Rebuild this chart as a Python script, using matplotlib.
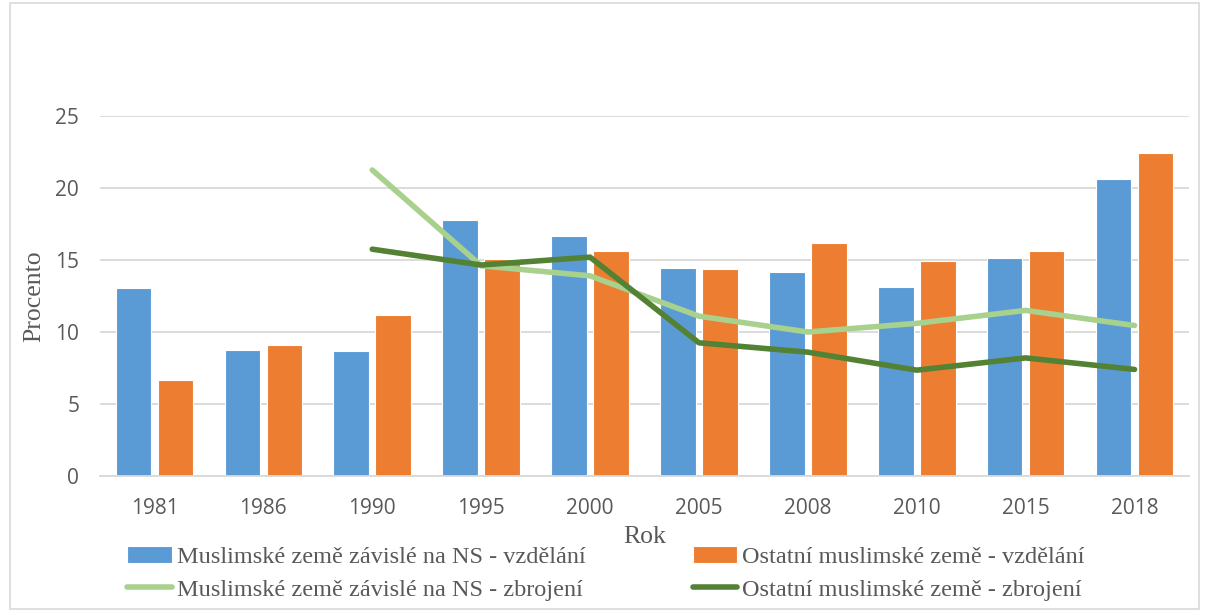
import matplotlib
matplotlib.use("Agg")
import matplotlib.pyplot as plt
import numpy as np
from matplotlib.patches import Rectangle

years = ["1981", "1986", "1990", "1995", "2000", "2005", "2008", "2010", "2015", "2018"]
edu_ns = [13.05, 8.75, 8.7, 17.75, 16.7, 14.45, 14.2, 13.15, 15.15, 20.65]
edu_other = [6.65, 9.1, 11.2, 15.05, 15.65, 14.35, 16.2, 14.95, 15.65, 22.4]
# arms series start in 1990
arms_ns = [np.nan, np.nan, 21.25, 14.6, 13.9, 11.1, 10.0, 10.6, 11.5, 10.45]
arms_other = [np.nan, np.nan, 15.75, 14.65, 15.2, 9.25, 8.6, 7.35, 8.2, 7.4]

BLUE = "#5b9bd5"
ORANGE = "#ed7d31"
LGREEN = "#a9d18e"
DGREEN = "#548235"
SERIF = "Liberation Serif"
W, H = 1209, 615

fig = plt.figure(figsize=(W / 100, H / 100), dpi=100)
ax = fig.add_axes([100 / W, (H - 476) / H, 1089 / W, 360 / H])
fig.patches.append(Rectangle((0.008, 0.01), 0.984, 0.985, transform=fig.transFigure,
                             fill=False, edgecolor="#d9d9d9", lw=1.2))

x = np.arange(len(years))
w, off = 0.327, 0.193
b1 = ax.bar(x - off, edu_ns, w, color=BLUE, edgecolor="white", lw=0.8, zorder=2,
            label="Muslimské země závislé na NS - vzdělání")
b2 = ax.bar(x + off, edu_other, w, color=ORANGE, edgecolor="white", lw=0.8, zorder=2,
            label="Ostatní muslimské země - vzdělání")
l1, = ax.plot(x, arms_ns, color=LGREEN, lw=4, solid_capstyle="round", zorder=3,
              label="Muslimské země závislé na NS - zbrojení")
l2, = ax.plot(x, arms_other, color=DGREEN, lw=4, solid_capstyle="round", zorder=4,
              label="Ostatní muslimské země - zbrojení")

ax.set_xlim(-0.5, len(years) - 0.5)
ax.set_ylim(0, 25)
ax.set_yticks(range(0, 26, 5))
ax.set_xticks(x)
ax.set_xticklabels(years)
ax.grid(axis="y", color="#d9d9d9", lw=1.3, zorder=0)
for s in ("top", "right", "left"):
    ax.spines[s].set_visible(False)
ax.spines["bottom"].set_color("#d9d9d9")
ax.spines["bottom"].set_linewidth(1.3)
ax.tick_params(length=0, labelsize=15, labelcolor="#595959")
ax.tick_params(axis="x", pad=16)
ax.tick_params(axis="y", pad=15)
for lab in ax.get_xticklabels() + ax.get_yticklabels():
    lab.set_family("Open Sans")

ax.set_xlabel("Rok", family=SERIF, fontsize=18.5, color="#595959", labelpad=5)
ax.set_ylabel("Procento", family=SERIF, fontsize=18.5, color="#595959", labelpad=7)

fig.legend([b1, l1, b2, l2], [h.get_label() for h in (b1, l1, b2, l2)], ncol=2,
           loc="upper left", bbox_to_anchor=(127 / W, (H - 546) / H), frameon=False,
           borderpad=0, borderaxespad=0,
           prop={"family": SERIF, "size": 17.5}, handlelength=1.85, handletextpad=0.2,
           columnspacing=4.4, labelspacing=0.45, labelcolor="#595959")

fig.savefig("out.png", dpi=100)
